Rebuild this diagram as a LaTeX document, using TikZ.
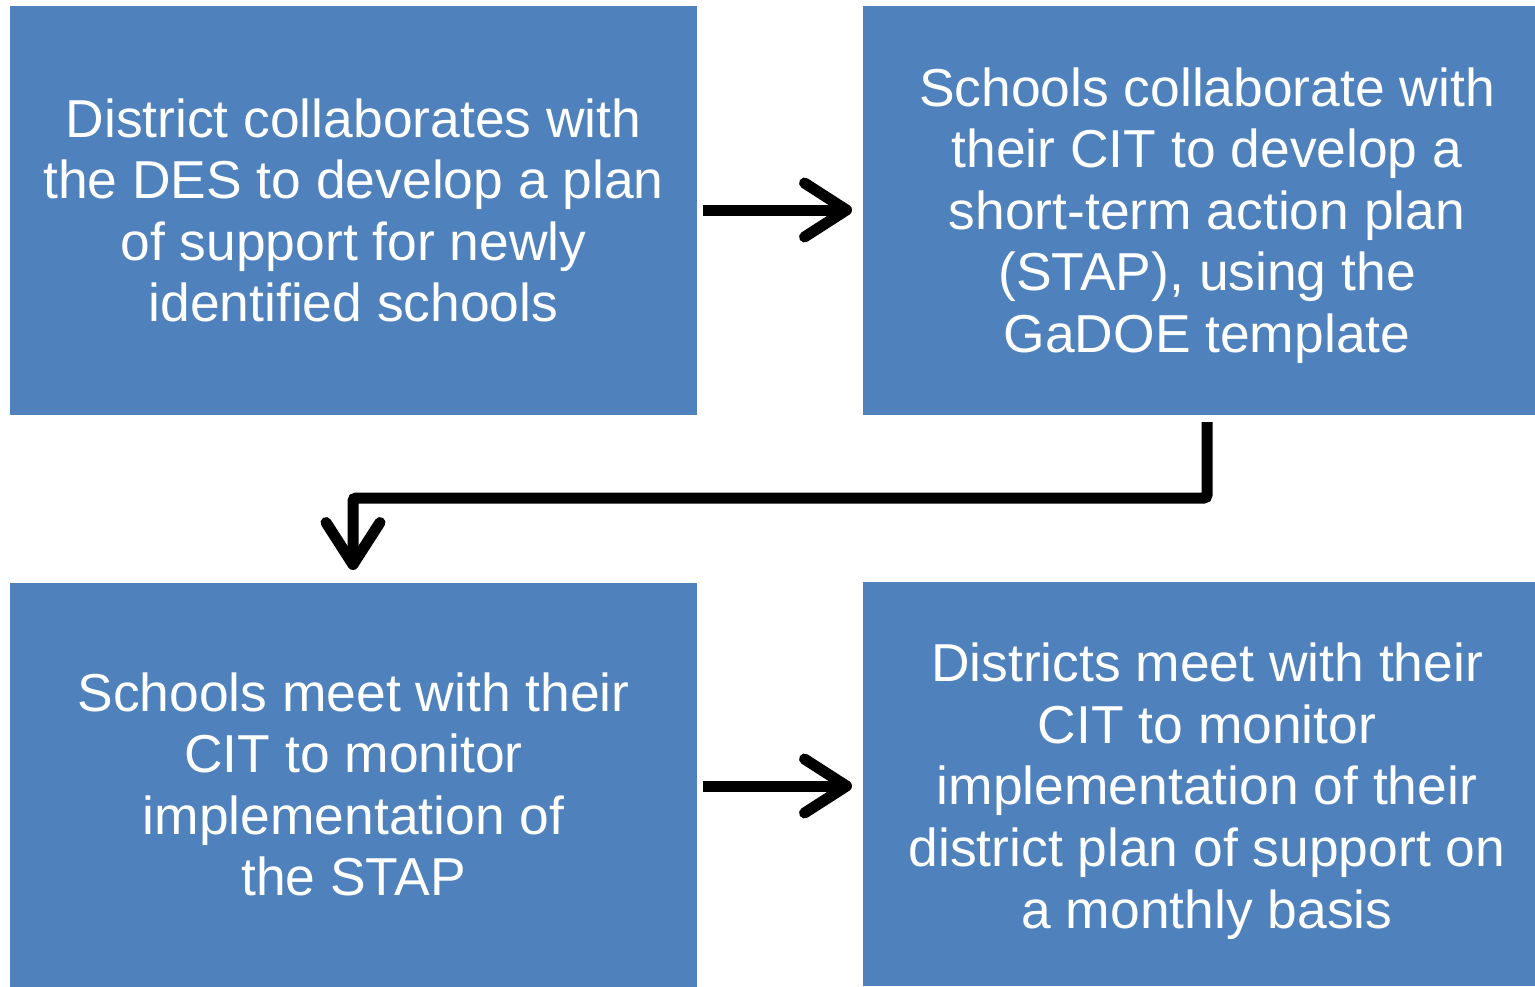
\documentclass[tikz,border=0pt]{standalone}
\usepackage{fontspec}
\setmainfont{Liberation Sans}
\usetikzlibrary{arrows.meta}
\definecolor{boxblue}{HTML}{4F81BD}
\begin{document}
\begin{tikzpicture}[x=1pt,y=-1pt,
  stepbox/.style={fill=boxblue, draw=none, text=white, align=center,
    font=\fontsize{53.4}{61.6}\selectfont, inner sep=0pt},
  boxtext/.style={text=white, align=center,
    font=\fontsize{53.4}{61.6}\selectfont, inner sep=0pt},
  conn/.style={line width=11pt, draw=black,
    -{Straight Barb[round, length=42pt, width=54pt]}}]
\useasboundingbox (0,0) rectangle (1535,986);
\fill[white] (0,0) rectangle (1535,986);
\node[stepbox, minimum width=687pt, minimum height=409pt] (b1) at (353.5,210.5)
  {District collaborates with\\the DES to develop a plan\\of support for newly\\identified schools};
\node[stepbox, minimum width=672pt, minimum height=409pt] (b2) at (1199,210.5) {};
\node[boxtext] (b2t) at (1207,215.5)
  {Schools collaborate with\\their CIT to develop a\\short-term action plan\\(STAP), using the\\GaDOE template};
\node[stepbox, minimum width=687pt, minimum height=404pt] (b3) at (353.5,784.5)
  {Schools meet with their\\CIT to monitor\\implementation of\\the STAP};
\node[stepbox, minimum width=672pt, minimum height=404pt] (b4) at (1199,784) {};
\node[boxtext] (b4t) at (1207,791)
  {Districts meet with their\\CIT to monitor\\implementation of their\\district plan of support on\\a monthly basis};
\coordinate (t1) at (703,210);
\coordinate (h1) at (852,210);
\coordinate (t2) at (1207,422);
\coordinate (k1) at (1207,498);
\coordinate (k2) at (353,498);
\coordinate (h2) at (353,570);
\coordinate (t3) at (703,786);
\coordinate (h3) at (852,786);
\draw[conn] (t1) -- (h1);
\draw[conn, rounded corners=3pt] (t2) -- (k1) -- (k2) -- (h2);
\draw[conn] (t3) -- (h3);
\end{tikzpicture}
\end{document}
